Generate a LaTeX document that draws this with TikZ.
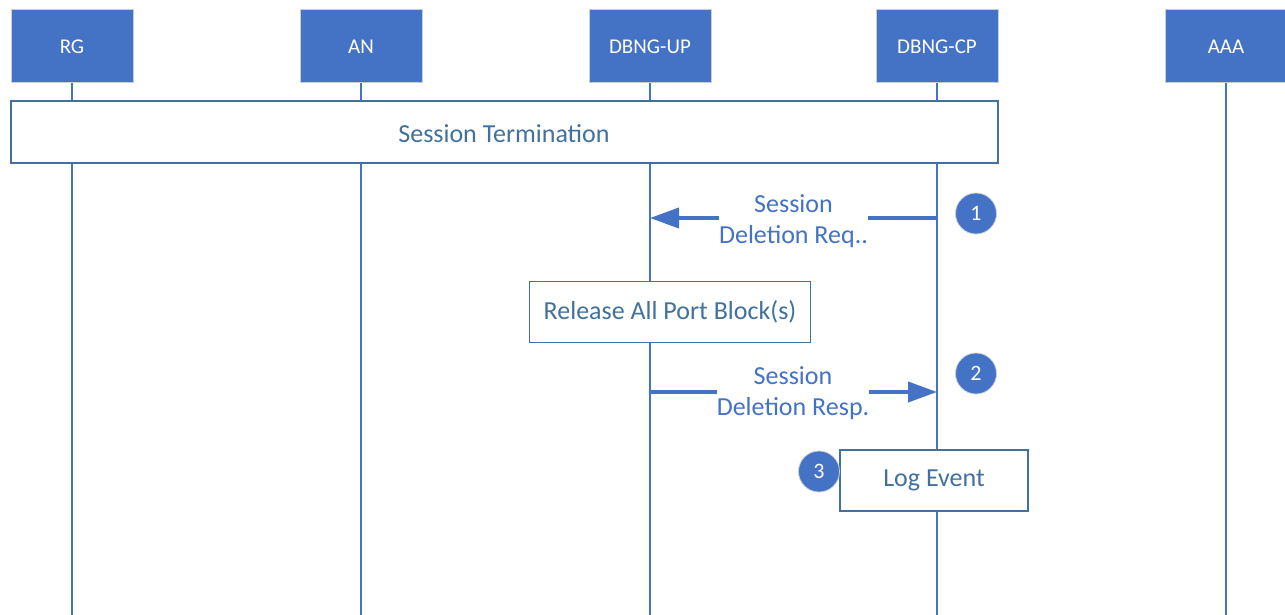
\documentclass[tikz,border=0pt]{standalone}
\usepackage{fontspec}
\setmainfont{Carlito}
\usetikzlibrary{arrows.meta}
\definecolor{accent}{RGB}{68,114,196}
\definecolor{steel}{RGB}{65,113,156}
\definecolor{paleedge}{RGB}{200,205,214}
\begin{document}
\begin{tikzpicture}[x=1pt,y=-1pt,
  actor/.style={rectangle, fill=accent, draw=paleedge, line width=1pt,
    minimum width=122pt, minimum height=73pt, inner sep=0pt,
    text=white, font=\fontsize{21}{25}\selectfont},
  lifeline/.style={draw=accent, line width=1.6pt},
  actbox/.style={rectangle, fill=white, draw=steel, line width=1.2pt,
    inner sep=0pt, text=steel, font=\fontsize{26}{31}\selectfont},
  msg/.style={draw=accent, line width=4pt, -{Triangle[length=29pt,width=20pt]}},
  msglabel/.style={fill=white, inner sep=0pt, align=center, text=accent,
    font=\fontsize{26}{31}\selectfont},
  stepnum/.style={circle, fill=accent, draw=paleedge, line width=0.8pt,
    minimum size=41pt, inner sep=0pt, text=white,
    font=\fontsize{22}{26}\selectfont}]
\useasboundingbox (0,0) rectangle (1285,615);
\begin{scope}
\clip (0,0) rectangle (1285,615);

% participants
\node[actor] (rg)  at (72,46.5)   {RG};
\node[actor] (an)  at (361,46.5)  {AN};
\node[actor] (up)  at (650,46.5)  {DBNG-UP};
\node[actor] (cp)  at (937,46.5)  {DBNG-CP};
\node[actor] (aaa) at (1226,46.5) {AAA};

% lifelines run down past the page edge
\coordinate (bottom) at (0,620);
\foreach \p in {rg,an,up,cp,aaa}
  \draw[lifeline] (\p.south) -- (\p |- bottom);

% session termination spanning box
\node[actbox, minimum width=987pt, minimum height=62pt] (term) at (504.5,132) {};
\node[text=steel, font=\fontsize{26}{31}\selectfont] (termtext) at (504,134) {Session Termination};

% step 1: deletion request
\coordinate (m1) at (0,218);
\draw[msg] (cp |- m1) -- (up |- m1);
\node[msglabel] (l1) at (793.5,221) {Session\\Deletion Req..};
\node[stepnum] (s1) at (976,213.5) {1};

% port block release
\node[actbox, minimum width=281pt, minimum height=61pt] (rel) at (670,312) {Release All Port Block(s)};

% step 2: deletion response
\coordinate (m2) at (0,392);
\draw[msg] (up |- m2) -- (cp |- m2);
\node[msglabel] (l2) at (793,393) {Session\\Deletion Resp.};
\node[stepnum] (s2) at (976,373.5) {2};

% step 3: log
\node[actbox, minimum width=188pt, minimum height=61pt, text height=17pt] (log) at (934,480.5) {Log Event};
\node[stepnum] (s3) at (819,471.5) {3};
\end{scope}
\end{tikzpicture}
\end{document}
